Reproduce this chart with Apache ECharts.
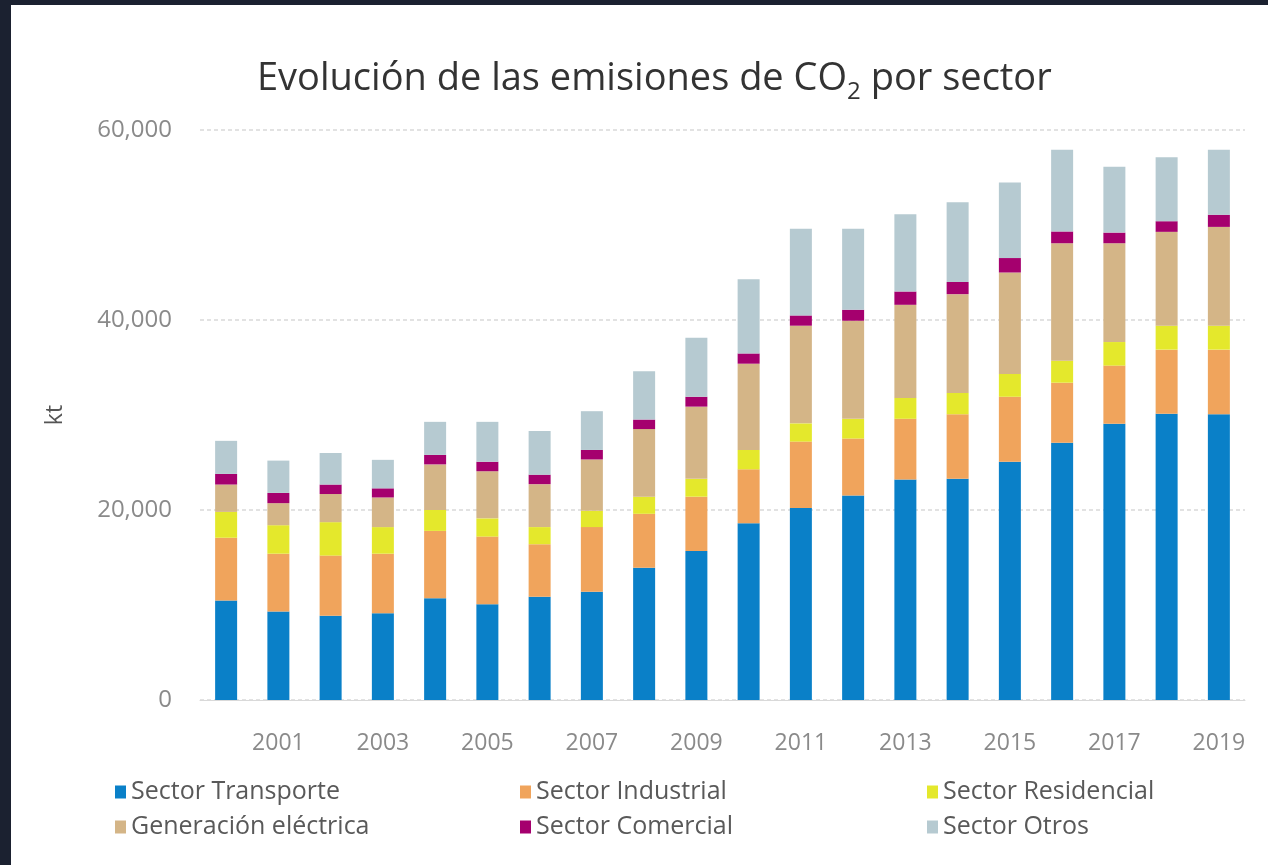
<!DOCTYPE html>
<html>
<head>
<meta charset="utf-8">
<script src="https://cdn.jsdelivr.net/npm/echarts@6/dist/echarts.min.js"></script>
<style>
  html, body { margin: 0; padding: 0; width: 1268px; height: 865px; background: #1b2130; overflow: hidden; }
  #chart { position: absolute; left: 11px; top: 5px; width: 1257px; height: 860px; background: #ffffff; }
</style>
</head>
<body>
<div id="chart"></div>
<script>
const years = ['2000','2001','2002','2003','2004','2005','2006','2007','2008','2009','2010','2011','2012','2013','2014','2015','2016','2017','2018','2019'];
const transporte  = [10480, 9320, 8880, 9120, 10720, 10080, 10880, 11400, 13920, 15680, 18600, 20200, 21520, 23200, 23280, 25080, 27080, 29080, 30120, 30080];
const industrial  = [6600, 6080, 6320, 6280, 7080, 7120, 5520, 6800, 5680, 5720, 5680, 7000, 6000, 6400, 6800, 6840, 6320, 6120, 6760, 6800];
const residencial = [2720, 3000, 3520, 2800, 2200, 1920, 1800, 1720, 1800, 1880, 2040, 1920, 2080, 2200, 2240, 2400, 2320, 2480, 2520, 2520];
const generacion  = [2880, 2320, 2960, 3120, 4800, 4960, 4520, 5400, 7120, 7600, 9080, 10280, 10320, 9800, 10400, 10680, 12360, 10400, 9880, 10400];
const comercial   = [1120, 1080, 1000, 960, 1000, 1000, 1000, 1000, 1000, 1040, 1080, 1080, 1160, 1400, 1280, 1520, 1240, 1120, 1120, 1280];
const otros       = [3480, 3400, 3320, 3000, 3480, 4200, 4600, 4080, 5080, 6200, 7800, 9120, 8520, 8120, 8400, 7960, 8600, 6920, 6720, 6840];
const yTicks = [0, 20000, 40000, 60000];

const seriesDefs = [
  { name: 'Sector Transporte', data: transporte, color: '#0a80c8' },
  { name: 'Sector Industrial', data: industrial, color: '#f0a45c' },
  { name: 'Sector Residencial', data: residencial, color: '#e4e82c' },
  { name: 'Generación eléctrica', data: generacion, color: '#d4b587' },
  { name: 'Sector Comercial', data: comercial, color: '#a5006e' },
  { name: 'Sector Otros', data: otros, color: '#b6cad1' }
];

const FONT = 'Open Sans';
const legendText = { fontFamily: FONT, fontSize: 25, color: '#595959', lineHeight: 26 };
function legend(left, names) {
  return {
    orient: 'vertical', left: left, top: 769, itemGap: 9,
    icon: 'rect', itemWidth: 11, itemHeight: 13, itemStyle: { borderWidth: 0 },
    textStyle: legendText, selectedMode: false, data: names
  };
}

const chart = echarts.init(document.getElementById('chart'), null, { renderer: 'canvas' });
chart.setOption({
  animation: false,
  backgroundColor: '#ffffff',
  title: {
    text: 'Evolución de las emisiones de CO{sub|2} por sector',
    left: 241, top: 44,
    textStyle: {
      fontFamily: FONT, fontSize: 38, fontWeight: 'normal', color: '#333333', lineHeight: 50,
      rich: {
        sub: { fontFamily: FONT, fontSize: 24, color: '#333333', verticalAlign: 'bottom', lineHeight: 50 }
      }
    }
  },
  legend: [
    legend(99, ['Sector Transporte', 'Generación eléctrica']),
    legend(504, ['Sector Industrial', 'Sector Comercial']),
    legend(911, ['Sector Residencial', 'Sector Otros'])
  ],
  grid: { left: 189, right: 23, top: 125, bottom: 165 },
  xAxis: {
    type: 'category', data: years,
    axisLine: { lineStyle: { color: '#d9d9d9' } },
    axisTick: { alignWithLabel: true, interval: 0, length: 8, lineStyle: { color: '#d9d9d9' } },
    axisLabel: {
      interval: (i) => i % 2 === 1, margin: 32,
      fontFamily: FONT, fontSize: 23, color: '#8a8a8a'
    }
  },
  yAxis: {
    type: 'value', min: 0, max: 60000, interval: 20000,
    name: 'kt', nameLocation: 'middle', nameGap: 133, nameRotate: 90,
    nameTextStyle: { fontFamily: FONT, fontSize: 23, color: '#555555' },
    axisLine: { show: false }, axisTick: { show: false },
    axisLabel: {
      margin: 28, fontFamily: FONT, fontSize: 24, color: '#8a8a8a',
      formatter: (v) => v.toLocaleString('en-US')
    },
    splitLine: { lineStyle: { color: '#d9d9d9', type: [4, 3], width: 1.5 } }
  },
  series: seriesDefs.map(s => ({
    name: s.name, type: 'bar', stack: 'total', barWidth: 22,
    data: s.data, itemStyle: { color: s.color }
  }))
});
</script>
</body>
</html>
